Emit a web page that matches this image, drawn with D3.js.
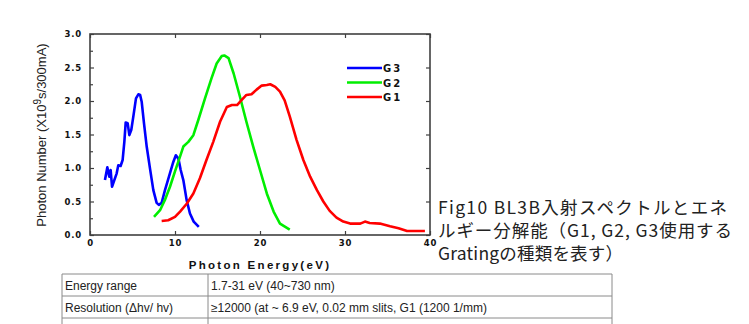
<!DOCTYPE html>
<html><head><meta charset="utf-8">
<script src="https://cdn.jsdelivr.net/npm/d3@7"></script>
<style>
body{margin:0;background:#fff;}
svg{display:block;}
</style></head>
<body>
<svg id="c" width="749" height="324"></svg>
<script>
// ---- data ----
const g3E = [1.76,2.04,2.27,2.43,2.59,3.14,3.33,3.6,3.84,4.04,4.2,4.43,4.63,4.86,5.1,5.41,5.69,5.9,6.08,6.35,6.67,7.06,7.45,7.84,8.1,8.43,8.82,9.29,9.8,10.1,10.4,10.67,10.98,11.37,11.76,12.2,12.8];
const g3V = [0.82,1.01,0.87,0.97,0.72,0.92,1.04,1.03,1.12,1.39,1.68,1.67,1.49,1.57,1.77,2.04,2.10,2.09,1.99,1.67,1.32,0.99,0.67,0.48,0.45,0.48,0.67,0.87,1.09,1.19,1.14,0.97,0.82,0.52,0.32,0.20,0.12];
const g2E = [7.53,8.24,8.8,9.41,10,10.59,10.98,11.57,12.16,12.75,13.53,14.3,14.9,15.5,15.8,16.3,16.9,17.65,18.4,19.2,20,20.8,21.6,22.35,23.5];
const g2V = [0.27,0.37,0.52,0.72,0.95,1.17,1.32,1.39,1.49,1.72,2.04,2.34,2.56,2.67,2.68,2.64,2.41,2.06,1.69,1.32,0.97,0.62,0.35,0.17,0.08];
const g1E = [8.43,9.2,10,10.6,11.4,12.16,12.94,13.7,14.5,15.3,16.1,16.7,17.3,17.8,18.4,19,19.6,20.2,20.8,21.2,21.8,22.35,22.9,23.5,24.3,25.1,25.9,26.7,27.45,28.2,29,29.8,30.6,31.8,32.35,32.9,34.1,35.3,36.3,37.3,39.4];
const g1V = [0.21,0.22,0.27,0.35,0.47,0.62,0.85,1.12,1.39,1.69,1.91,1.94,1.94,2.01,2.09,2.10,2.17,2.23,2.24,2.25,2.21,2.14,2.01,1.77,1.42,1.12,0.87,0.67,0.50,0.36,0.26,0.20,0.17,0.17,0.20,0.18,0.17,0.13,0.10,0.06,0.06];
const seriesNames = ["G3","G2","G1"];
const seriesColors = ["#0000ff","#00ee00","#ff0000"];
const xTicks = [0,10,20,30,40];
const yTicks = [0,0.5,1.0,1.5,2.0,2.5,3.0];
const yMinor = [0.25,0.75,1.25,1.75,2.25,2.75];
const xLabel = "Photon Energy(eV)";
const yLabelA = "Photon Number (X10", yLabelSup = "9", yLabelB = "s/300mA)";
const captionLines = ["Fig10 BL3B入射スペクトルとエネ","ルギー分解能（G1, G2, G3使用する","Gratingの種類を表す）"];
const tableRows = [["Energy range","1.7-31 eV (40~730 nm)"],["Resolution (Δhv/ hv)","≥12000 (at ~ 6.9 eV, 0.02 mm slits, G1 (1200 1/mm)"],["",""]];

// ---- chart ----
const svg = d3.select("#c");
const x = d3.scaleLinear([0,40],[90,430]);
const y = d3.scaleLinear([0,3],[235,34]);
const frameCol = "#404040";
const tickFont = "DejaVu Sans, sans-serif";

function styleAxis(g){
  g.select(".domain").remove();
  g.selectAll(".tick line").attr("stroke",frameCol).attr("stroke-width",1.2);
  g.selectAll(".tick text").attr("font-family",tickFont).attr("font-weight","bold")
   .attr("font-size",8.5).attr("letter-spacing",0.8).attr("fill","#111");
}
svg.append("g").attr("transform","translate(90,0)")
  .call(d3.axisLeft(y).tickValues(yTicks).tickFormat(d3.format(".1f")).tickSizeInner(-4).tickSizeOuter(0).tickPadding(8))
  .call(styleAxis);
svg.append("g").attr("transform","translate(90,0)")
  .call(d3.axisLeft(y).tickValues(yMinor).tickFormat("").tickSizeInner(-3).tickSizeOuter(0))
  .call(styleAxis);
svg.append("g").attr("transform","translate(430,0)")
  .call(d3.axisRight(y).tickValues(yTicks).tickFormat("").tickSizeInner(-4).tickSizeOuter(0))
  .call(styleAxis);
svg.append("g").attr("transform","translate(0,235)")
  .call(d3.axisBottom(x).tickValues(xTicks).tickFormat(d3.format("d")).tickSizeInner(-4).tickSizeOuter(0).tickPadding(5))
  .call(styleAxis);
svg.append("g").attr("transform","translate(0,34)")
  .call(d3.axisTop(x).tickValues(xTicks).tickFormat("").tickSizeInner(-4).tickSizeOuter(0))
  .call(styleAxis);

svg.append("rect").attr("x",x(0)).attr("y",y(3)).attr("width",x(40)-x(0)).attr("height",y(0)-y(3))
  .attr("fill","none").attr("stroke",frameCol).attr("stroke-width",1.6);

const line = d3.line().x(d=>x(d[0])).y(d=>y(d[1]));
const series = [d3.zip(g3E,g3V), d3.zip(g2E,g2V), d3.zip(g1E,g1V)];
series.forEach((s,i)=>{
  svg.append("path").datum(s).attr("d",line).attr("fill","none")
    .attr("stroke",seriesColors[i]).attr("stroke-width",2.6).attr("stroke-linejoin","round");
});

// legend
const leg = svg.append("g");
seriesNames.forEach((n,i)=>{
  const ly = 68 + i*14.5;
  leg.append("line").attr("x1",347).attr("x2",382).attr("y1",ly).attr("y2",ly)
    .attr("stroke",seriesColors[i]).attr("stroke-width",2.6);
  leg.append("text").attr("x",383).attr("y",ly+4).text(n)
    .attr("font-family",tickFont).attr("font-weight","bold").attr("font-size",10).attr("letter-spacing",2).attr("fill","#111");
});

// axis titles
svg.append("text").attr("x",260).attr("y",269).attr("text-anchor","middle").text(xLabel)
  .attr("font-family","Liberation Sans, Arial, sans-serif").attr("font-weight","bold").attr("font-size",11.5)
  .attr("letter-spacing",2.3).attr("fill","#111");
const yl = svg.append("text").attr("transform","translate(46,135) rotate(-90)").attr("text-anchor","middle")
  .attr("font-family","Liberation Sans, Arial, sans-serif").attr("font-size",13).attr("fill","#222");
yl.append("tspan").text(yLabelA);
yl.append("tspan").text(yLabelSup).attr("dy",-5).attr("font-size",10);
yl.append("tspan").text(yLabelB).attr("dy",5);

// caption
const capWidths = [289,294,185];
captionLines.forEach((t,i)=>{
  svg.append("text").attr("x",438).attr("y",214+i*23).text(t)
    .attr("textLength",capWidths[i]).attr("lengthAdjust","spacing")
    .attr("font-family","Noto Sans CJK JP, sans-serif").attr("font-size",17.5).attr("fill","#222");
});

// table
const tb = svg.append("g");
const rowY = [274,296,318];
const colX = [62,208,612];
tableRows.forEach((r,i)=>{
  const top = rowY[i], h = 22;
  tb.append("line").attr("x1",colX[0]).attr("x2",colX[2]).attr("y1",top).attr("y2",top).attr("stroke","#8a8a8a");
  [0,1,2].forEach(k=>tb.append("line").attr("x1",colX[k]).attr("x2",colX[k]).attr("y1",top).attr("y2",top+h).attr("stroke","#8a8a8a"));
  r.forEach((c,k)=>{
    tb.append("text").attr("x",colX[k]+3).attr("y",top+16).text(c)
      .attr("font-family","Liberation Sans, Arial, sans-serif").attr("font-size",12).attr("fill","#222");
  });
});
</script>
</body></html>
